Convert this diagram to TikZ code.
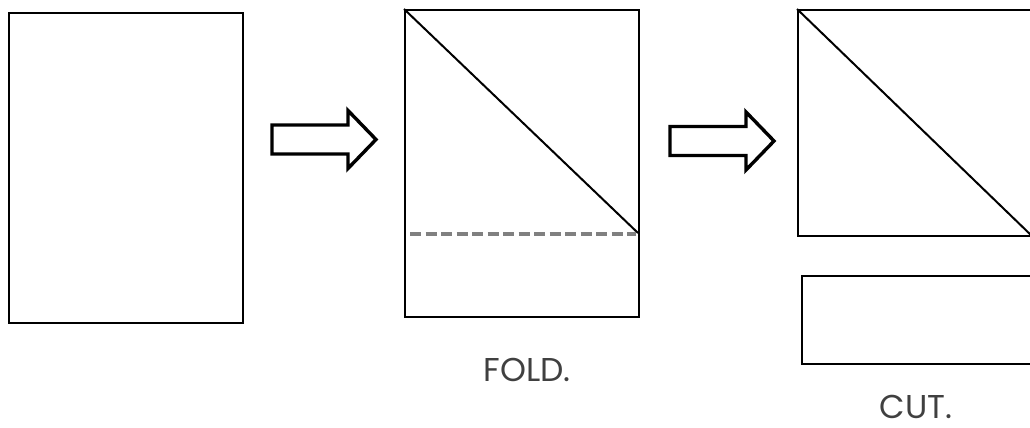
\documentclass[tikz,border=0pt]{standalone}
\usepackage{fontspec}
\setmainfont{Poppins}
\usetikzlibrary{positioning}
\tikzset{
x=1pt, y=-1pt, % one unit is one pixel, measured downwards
sheet/.style={draw, line width=2.4pt, inner sep=0pt, anchor=north west}, % a sheet of paper
crease/.style={line width=2pt}, % the diagonal fold of the sheet
fold line/.style={draw=gray, line width=3.6pt, dash pattern=on 11pt off 4.5pt},
caption/.style={font=\fontsize{33}{36}\selectfont, text=black!75, inner sep=0pt, text depth=0pt, anchor=base},
blockarrow/.pic={ % hollow arrow between two steps
  \draw[line width=3.4pt, miter limit=20]
    (0,-14.5) -- (76,-14.5) -- (76,-29) -- (104,0) -- (76,29) -- (76,14.5) -- (0,14.5) -- cycle;
},
}
\begin{document}
\begin{tikzpicture}
  \useasboundingbox (0,0) rectangle (1030,428);

  % the three steps
  \node[sheet, minimum width=234pt, minimum height=310pt] (blank) at (8,12) {};
  \node[sheet, minimum width=234pt, minimum height=307pt] (fold) at (404,9) {};
  \node[sheet, minimum width=234pt, minimum height=226pt] (cut) at (797,9) {};
  \node[sheet, minimum width=232pt, minimum height=88pt] (strip) at (801,275) {};

  \pic at (272,139.5) {blockarrow};
  \pic at (670,141) {blockarrow};

  \coordinate (corner) at (638,233);
  \draw[crease] (fold.north west) -- (corner);
  \draw[fold line] (410,234) -- (636,234);
  \draw[crease] (cut.north west) -- (cut.south east);

  \node[caption] (foldtext) at (527,381) {FOLD.};
  \node[caption] (cuttext) at (916,418) {CUT.};
\end{tikzpicture}
\end{document}
